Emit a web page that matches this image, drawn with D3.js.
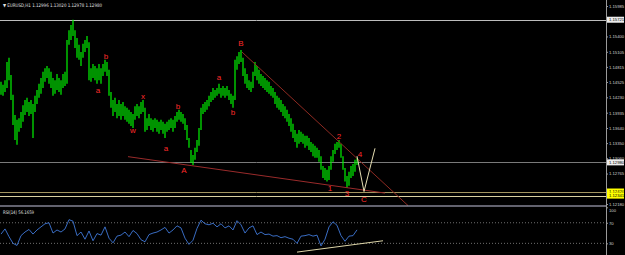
<!doctype html>
<html>
<head>
<meta charset="utf-8" />
<title>EURUSD,H1</title>
<script src="https://cdn.jsdelivr.net/npm/d3@7"></script>
<style>
  html,body{margin:0;background:#000}
  svg{display:block}
  .ax text{font-family:"Liberation Sans",Arial,sans-serif;font-size:4.2px;fill:#d0d0d0}
  .ax line{stroke:#9a9a9a}
  .wave{font-family:"Liberation Sans",Arial,sans-serif;font-size:8px;fill:#ff2a2a}
</style>
</head>
<body>
<svg id="chart" width="625" height="255"></svg>
<script>
// H1 bars (high / low)
const barHigh = [
1.1453,1.1447,1.1456,1.1491,1.1499,1.1466,1.1428,1.1389,1.1380,1.1383,
1.1395,1.1408,1.1418,1.1422,1.1414,1.1418,1.1410,1.1426,1.1437,1.1449,
1.1460,1.1472,1.1479,1.1483,1.1479,1.1472,1.1460,1.1456,1.1468,1.1460,
1.1456,1.1468,1.1472,1.1533,1.1552,1.1562,1.1572,1.1552,1.1537,1.1524,
1.1510,1.1526,1.1533,1.1541,1.1529,1.1479,1.1487,1.1483,1.1479,1.1487,
1.1479,1.1487,1.1495,1.1491,1.1476,1.1433,1.1418,1.1422,1.1410,1.1418,
1.1410,1.1414,1.1406,1.1403,1.1399,1.1395,1.1391,1.1406,1.1410,1.1406,
1.1414,1.1418,1.1403,1.1383,1.1391,1.1383,1.1380,1.1383,1.1380,1.1376,
1.1380,1.1376,1.1372,1.1376,1.1380,1.1383,1.1380,1.1387,1.1395,1.1399,
1.1395,1.1391,1.1383,1.1370,1.1345,1.1322,1.1312,1.1326,1.1341,1.1364,
1.1403,1.1410,1.1414,1.1418,1.1426,1.1433,1.1441,1.1437,1.1441,1.1449,
1.1441,1.1445,1.1441,1.1445,1.1437,1.1430,1.1426,1.1495,1.1502,1.1510,
1.1514,1.1499,1.1479,1.1468,1.1456,1.1453,1.1472,1.1491,1.1483,1.1476,
1.1468,1.1464,1.1460,1.1456,1.1453,1.1445,1.1441,1.1433,1.1426,1.1422,
1.1418,1.1410,1.1406,1.1399,1.1391,1.1383,1.1372,1.1360,1.1353,1.1360,
1.1357,1.1353,1.1349,1.1349,1.1345,1.1337,1.1334,1.1330,1.1326,1.1322,
1.1310,1.1291,1.1287,1.1284,1.1291,1.1310,1.1322,1.1334,1.1337,1.1341,
1.1334,1.1310,1.1287,1.1272,1.1280,1.1291,1.1295,1.1303,1.1307
];
const barLow = [
1.1428,1.1426,1.1433,1.1441,1.1456,1.1418,1.1370,1.1341,1.1332,1.1357,
1.1364,1.1376,1.1389,1.1395,1.1387,1.1391,1.1345,1.1395,1.1410,1.1422,
1.1430,1.1441,1.1453,1.1460,1.1449,1.1441,1.1426,1.1430,1.1437,1.1433,
1.1428,1.1441,1.1445,1.1449,1.1524,1.1533,1.1541,1.1518,1.1499,1.1495,
1.1483,1.1499,1.1510,1.1518,1.1456,1.1453,1.1460,1.1456,1.1449,1.1456,
1.1449,1.1464,1.1472,1.1464,1.1426,1.1403,1.1387,1.1395,1.1383,1.1387,
1.1380,1.1387,1.1380,1.1376,1.1372,1.1368,1.1364,1.1380,1.1387,1.1383,
1.1391,1.1395,1.1357,1.1360,1.1368,1.1360,1.1357,1.1364,1.1357,1.1353,
1.1360,1.1353,1.1345,1.1357,1.1360,1.1364,1.1357,1.1364,1.1376,1.1380,
1.1376,1.1372,1.1360,1.1341,1.1326,1.1297,1.1293,1.1303,1.1318,1.1330,
1.1360,1.1391,1.1395,1.1399,1.1406,1.1414,1.1418,1.1422,1.1426,1.1430,
1.1422,1.1426,1.1422,1.1426,1.1418,1.1410,1.1403,1.1418,1.1476,1.1487,
1.1491,1.1464,1.1449,1.1441,1.1437,1.1433,1.1441,1.1464,1.1456,1.1449,
1.1445,1.1441,1.1437,1.1433,1.1430,1.1426,1.1422,1.1410,1.1403,1.1399,
1.1395,1.1387,1.1383,1.1376,1.1368,1.1357,1.1345,1.1337,1.1326,1.1334,
1.1337,1.1334,1.1326,1.1330,1.1322,1.1318,1.1310,1.1307,1.1307,1.1299,
1.1284,1.1268,1.1264,1.1261,1.1264,1.1284,1.1299,1.1314,1.1322,1.1326,
1.1307,1.1284,1.1261,1.1249,1.1253,1.1268,1.1272,1.1280,1.1293
];

// RSI(14), one reading every second bar
const rsi = [
48,58,43,30,26,45,52,57,48,56,62,68,70,50,56,52,58,76,73,45,
52,38,54,35,49,46,62,40,31,44,46,52,43,55,49,37,33,47,50,52,
56,61,50,56,64,60,40,28,36,59,75,68,66,69,62,68,60,64,56,74,
66,50,60,64,47,52,47,48,44,45,41,43,40,38,30,44,45,47,44,46,
25,38,62,72,65,45,34,44,45,56.1659
];

const priceTicks = [1.15985,1.15400,1.15105,1.14815,1.14525,1.14230,1.13935,1.13640,1.13350,1.13060,1.12765,1.12180];
const rsiTicks = [100,70,30];
const rsiLevels = [70,30];

// horizontal price lines and their tags
const levelPrice = [1.15721,1.12980,1.12420,1.12341];

// wave marks
const waveText  = ['b','a','x','w','b','a','A','a','b','B','2','4','1','3','C'];
const waveBar   = [52.5,48.5,71,66,88.5,82.5,91.5,109,116,120,169,179.5,164.5,173,181.5];
const wavePrice = [1.1502,1.1437,1.1424,1.1360,1.1406,1.1324,1.1282,1.1462,1.1393,1.1527,1.1347,1.1314,1.1247,1.1239,1.1226];

// trend lines (bar index, price)
const upperBar = [120.5,203.5], upperPrice = [1.1510,1.1215];
const lowerBar = [63.5,192],    lowerPrice = [1.1309,1.1239];
// projected path 4 -> C -> up
const projBar = [178,181.5,187], projPrice = [1.1310,1.1242,1.1325];
// trend line under RSI
const rsiLineBar = [148,191], rsiLineVal = [13,35];

const svg = d3.select('#chart');
const axisX = 606, mainBottom = 206;

svg.append('rect').attr('width',625).attr('height',255).attr('fill','#000');

const x  = d3.scaleLinear().domain([0, barHigh.length-1]).range([1,357]);
const y  = d3.scaleLinear().domain([1.12180,1.15985]).range([204,6]);
const xr = d3.scaleLinear().domain([0, rsi.length-1]).range([1,357]);
const yr = d3.scaleLinear().domain([0,100]).range([258.8,207.3]);

svg.append('clipPath').attr('id','mainClip')
  .append('rect').attr('x',0).attr('y',0).attr('width',axisX).attr('height',mainBottom);
svg.append('clipPath').attr('id','rsiClip')
  .append('rect').attr('x',0).attr('y',mainBottom).attr('width',axisX).attr('height',255-mainBottom);

const main = svg.append('g').attr('clip-path','url(#mainClip)');

// level lines
const levelColor = ['#bdbdbd','#7a7a7a','#a39560','#d9d0a0'];
main.selectAll('line.lvl').data(levelPrice).join('line')
  .attr('class','lvl')
  .attr('x1',0).attr('x2',axisX)
  .attr('y1',d=>Math.round(y(d))+0.5).attr('y2',d=>Math.round(y(d))+0.5)
  .attr('stroke',(d,i)=>levelColor[i]).attr('stroke-width',1);

// bars
main.selectAll('line.bar').data(barHigh).join('line')
  .attr('class','bar')
  .attr('x1',(d,i)=>x(i)).attr('x2',(d,i)=>x(i))
  .attr('y1',d=>y(d)).attr('y2',(d,i)=>y(barLow[i]))
  .attr('stroke','#00ff00').attr('stroke-width',1.15);

// trend lines
const line2 = (bars,prices)=>d3.line()(bars.map((b,i)=>[x(b),y(prices[i])]));
main.append('path').attr('d',line2(upperBar,upperPrice))
  .attr('stroke','#8e2a22').attr('stroke-width',1).attr('fill','none');
main.append('path').attr('d',line2(lowerBar,lowerPrice))
  .attr('stroke','#9a2b2b').attr('stroke-width',1).attr('fill','none');
main.append('path').attr('d',line2(projBar,projPrice))
  .attr('stroke','#e6deb2').attr('stroke-width',1).attr('fill','none');

// wave labels
main.selectAll('text.wave').data(waveText).join('text')
  .attr('class','wave')
  .attr('x',(d,i)=>x(waveBar[i])).attr('y',(d,i)=>y(wavePrice[i]))
  .attr('text-anchor','middle').attr('dominant-baseline','central')
  .text(d=>d);

// header
svg.append('text').attr('x',3).attr('y',6.5)
  .attr('font-family','DejaVu Sans,sans-serif').attr('font-size',4.8).attr('fill','#e0e0e0')
  .attr('textLength',99).attr('lengthAdjust','spacingAndGlyphs')
  .text('\u25BC EURUSD,H1  1.12996 1.13020 1.12978 1.12980');

// separator between windows
svg.append('line').attr('x1',0).attr('x2',axisX).attr('y1',mainBottom).attr('y2',mainBottom)
  .attr('stroke','#c4c4dc').attr('stroke-width',1.2);

// price axis
svg.append('line').attr('x1',axisX+0.5).attr('x2',axisX+0.5).attr('y1',0).attr('y2',255)
  .attr('stroke','#9a9a9a');
const pAxis = svg.append('g').attr('class','ax').attr('transform',`translate(${axisX},0)`)
  .call(d3.axisRight(y).tickValues(priceTicks).tickSize(2).tickPadding(1).tickFormat(d3.format('.5f')));
pAxis.select('.domain').remove();

// price tags
const tagFill = ['#ececec','#ececec','#ffff00','#ffff00'];
const tags = svg.selectAll('g.tag').data(levelPrice).join('g')
  .attr('class','tag').attr('transform',d=>`translate(${axisX+1},${y(d)})`);
tags.append('rect').attr('x',0).attr('y',-3).attr('width',17).attr('height',6)
  .attr('fill',(d,i)=>tagFill[i]);
tags.append('text').attr('x',2).attr('y',0).attr('dominant-baseline','central')
  .attr('font-family','Liberation Sans,Arial,sans-serif').attr('font-size',4.2).attr('fill','#000')
  .text(d=>d3.format('.5f')(d));

// RSI window
const sub = svg.append('g').attr('clip-path','url(#rsiClip)');
sub.selectAll('line.lv').data(rsiLevels).join('line')
  .attr('class','lv')
  .attr('x1',0).attr('x2',axisX).attr('y1',d=>yr(d)).attr('y2',d=>yr(d))
  .attr('stroke','#8a8a8a').attr('stroke-width',0.8).attr('stroke-dasharray','1,2');
sub.append('path').datum(rsi)
  .attr('d',d3.line().x((d,i)=>xr(i)).y(d=>yr(d)))
  .attr('fill','none').attr('stroke','#3f78d8').attr('stroke-width',0.9);
sub.append('path')
  .attr('d',d3.line()(rsiLineBar.map((b,i)=>[x(b),yr(rsiLineVal[i])])))
  .attr('stroke','#ddd5a8').attr('stroke-width',1).attr('fill','none');

svg.append('text').attr('x',3).attr('y',214)
  .attr('font-family','DejaVu Sans,sans-serif').attr('font-size',4.8).attr('fill','#e0e0e0')
  .attr('textLength',31).attr('lengthAdjust','spacingAndGlyphs')
  .text('RSI(14) ' + d3.format('.4f')(rsi[rsi.length-1]));

const rAxis = svg.append('g').attr('class','ax').attr('transform',`translate(${axisX},0)`)
  .call(d3.axisRight(yr).tickValues(rsiTicks).tickSize(2).tickPadding(1));
rAxis.select('.domain').remove();
rAxis.selectAll('text').filter(d=>d===100).attr('dy','0.9em');
</script>
</body>
</html>
